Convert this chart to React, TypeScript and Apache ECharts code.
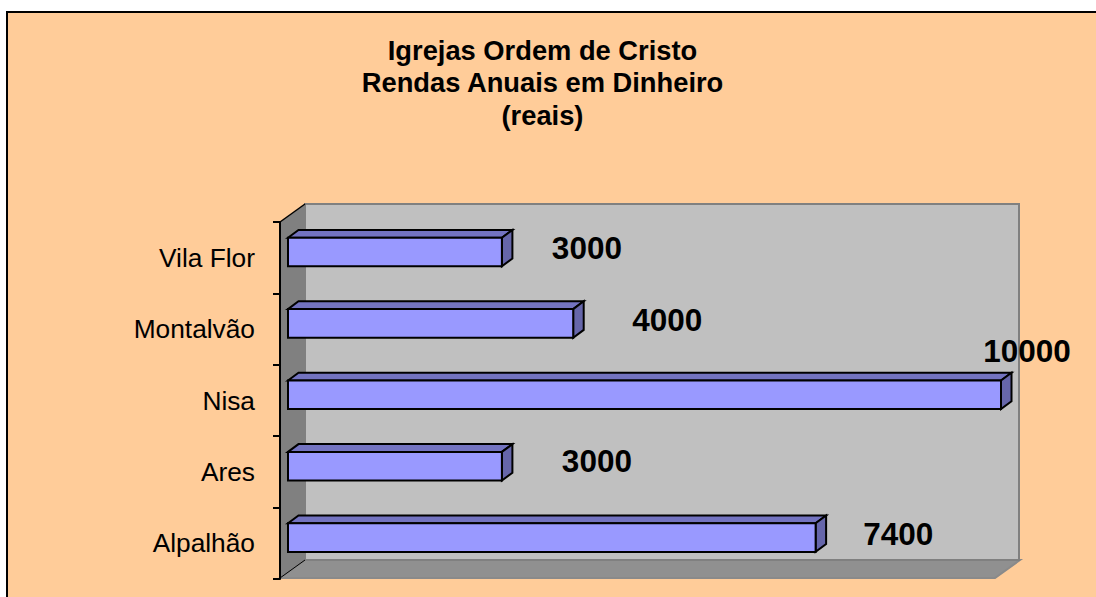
import React, { useEffect, useRef } from "react";
import * as echarts from "echarts";

const titleLines = ["Igrejas Ordem de Cristo", "Rendas Anuais em Dinheiro", "(reais)"];
const categories = ["Alpalhão", "Ares", "Nisa", "Montalvão", "Vila Flor"];
const values = [7400, 3000, 10000, 4000, 3000];
// Hand-placed label offsets (from bar end / bar centre) as in the original
const labelDx = [82.6, 95, 26, 94, 85];
const labelDy = [-4, -5.5, -44, -3, -4];

const PEACH = "#FFCC99";
const WALL_BACK = "#C0C0C0";
const WALL_LEFT = "#808080";
const FLOOR = "#909090";
const FRONT = "#9999FF";
const TOP = "#7373C0";
const SIDE = "#6666AA";
const FONT = '"Liberation Sans", Arial, sans-serif';

export default function App() {
  const ref = useRef<HTMLDivElement>(null);
  useEffect(() => {
    const chart = echarts.init(ref.current!, undefined, { renderer: "svg" });
    const DX = 10.5;
    const DY = 7.8;
    const INSET_X = 8;
    const INSET_Y = -5.7;
    const renderItem = (params: any, api: any) => {
      const i = api.value(1);
      const v = api.value(0);
      const [px1, yc] = api.coord([v, i]);
      const [px0] = api.coord([0, i]);
      const x0 = px0 + INSET_X;
      const x1 = px1 + INSET_X;
      const h = api.size([0, 1])[1] * 0.4;
      const c = yc + INSET_Y;
      const t = c - h / 2;
      const b = c + h / 2;
      const line = { stroke: "#000", lineWidth: 2, lineJoin: "miter" };
      return {
        type: "group",
        children: [
          {
            type: "polygon",
            shape: { points: [[x0, t], [x0 + DX, t - DY], [x1 + DX, t - DY], [x1, t]] },
            style: { fill: TOP, ...line },
          },
          {
            type: "polygon",
            shape: { points: [[x1, t], [x1 + DX, t - DY], [x1 + DX, b - DY], [x1, b]] },
            style: { fill: SIDE, ...line },
          },
          {
            type: "rect",
            shape: { x: x0, y: t, width: x1 - x0, height: h },
            style: { fill: FRONT, ...line },
          },
          {
            type: "text",
            x: x1 + labelDx[params.dataIndex],
            y: c + labelDy[params.dataIndex],
            style: {
              text: String(v),
              fill: "#000",
              font: `bold 31.5px ${FONT}`,
              align: "center",
              verticalAlign: "middle",
            },
            z2: 50,
          },
        ],
      };
    };
    chart.setOption({
      animation: false,
      backgroundColor: "#FFFFFF",
      grid: { left: 280, top: 222, width: 713, height: 357, containLabel: false },
      xAxis: {
        type: "value",
        min: 0,
        max: 10000,
        show: false,
        splitLine: { show: false },
      },
      yAxis: {
        type: "category",
        data: categories,
        z: 5,
        axisLine: { show: true, lineStyle: { color: "#000", width: 2 } },
        axisTick: { show: true, inside: false, length: 7, lineStyle: { color: "#000", width: 2 } },
        axisLabel: { color: "#000", fontFamily: FONT, fontSize: 26.3, margin: 25 },
        splitLine: { show: false },
      },
      graphic: {
        elements: [
          {
            type: "rect",
            z: -10,
            shape: { x: 7, y: 12, width: 1100, height: 600 },
            style: { fill: PEACH, stroke: "#000", lineWidth: 2 },
          },
          {
            type: "polygon",
            z: -9,
            shape: { points: [[280, 578], [305, 560], [1020, 560], [995, 578]] },
            style: { fill: FLOOR, stroke: "#8A8A8A", lineWidth: 2 },
          },
          {
            type: "rect",
            z: -9,
            shape: { x: 305, y: 204, width: 714, height: 356 },
            style: { fill: WALL_BACK, stroke: WALL_LEFT, lineWidth: 2 },
          },
          {
            type: "polygon",
            z: -8,
            shape: { points: [[280, 222], [305, 204], [305, 560], [280, 578]] },
            style: { fill: WALL_LEFT, stroke: "none" },
          },
          {
            type: "line",
            z: -7,
            shape: { x1: 280, y1: 222, x2: 305, y2: 204 },
            style: { stroke: "#000", lineWidth: 1.5 },
          },
          {
            type: "line",
            z: -7,
            shape: { x1: 280, y1: 578, x2: 305, y2: 560 },
            style: { stroke: "#000", lineWidth: 1 },
          },
          ...titleLines.map((text, i) => ({
            type: "text",
            z: 10,
            x: 542.5,
            y: 50 + i * 32.8,
            style: {
              text,
              fill: "#000",
              font: `bold 27.3px ${FONT}`,
              align: "center",
              verticalAlign: "middle",
            },
          })),
        ],
      },
      series: [
        {
          type: "custom",
          renderItem,
          clip: false,
          encode: { x: 0, y: 1 },
          data: values.map((v, i) => [v, i]),
        },
      ],
    });
    return () => chart.dispose();
  }, []);
  return (
    <div
      ref={ref}
      style={{ position: "absolute", left: 0, top: 0, width: 1096, height: 597, overflow: "hidden" }}
    />
  );
}
